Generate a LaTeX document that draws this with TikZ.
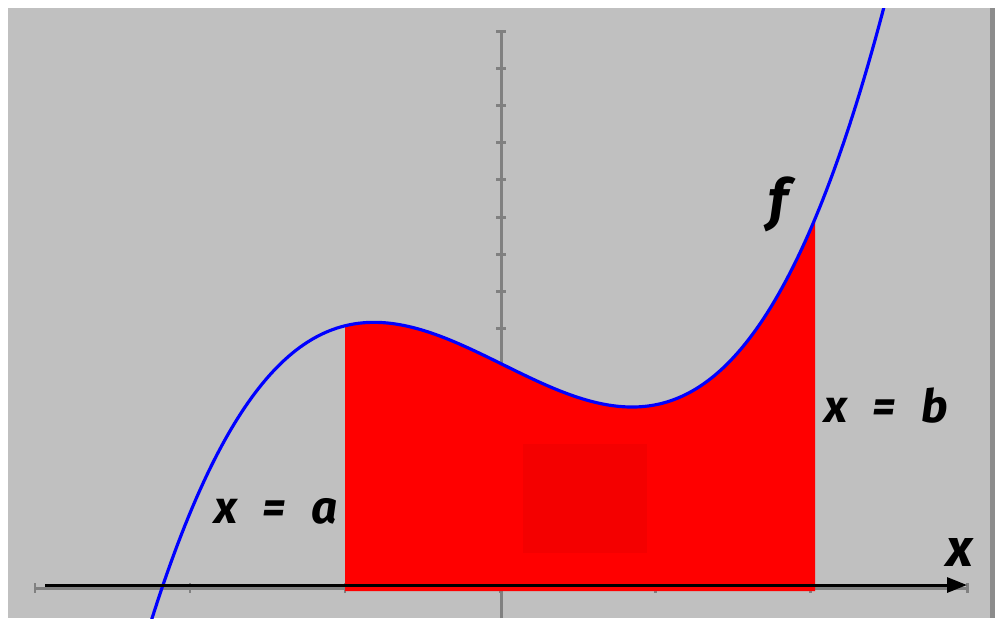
\documentclass[tikz,border=0pt]{standalone}
\usepackage{fontspec}
\setmainfont{Fira Sans}
\usetikzlibrary{arrows.meta}
\definecolor{bggray}{RGB}{192,192,192}
\definecolor{axisgray}{RGB}{128,128,128}
\definecolor{edgegray}{RGB}{140,140,140}
\definecolor{areared}{RGB}{255,0,0}
\definecolor{patchred}{RGB}{244,0,0}
\definecolor{curveblue}{RGB}{0,0,255}
\begin{document}
\begin{tikzpicture}[x=0.01cm,y=-0.01cm,
  declare function={cu(\x)=(\x-500)/155;
    fy(\x)=588-37.1*(0.99*cu(\x)*cu(\x)*cu(\x)-0.058*cu(\x)*cu(\x)-2.056*cu(\x)+6.06);},
  lbl/.style={font=\fontsize{13}{13}\selectfont\bfseries\itshape, inner sep=0pt, anchor=base},
  axisline/.style={draw=axisgray, line width=0.85pt},
  tickmark/.style={draw=axisgray, line width=0.85pt},
  xarrow/.style={draw=black, line width=0.85pt, -{Triangle[length=2mm,width=1.5mm]}},
  curve/.style={draw=curveblue, line width=0.9pt}]
\useasboundingbox (0,0) rectangle (1000,623);
\fill[white] (0,0) rectangle (1000,623);
\fill[bggray] (8,8) rectangle (990,618);
\fill[edgegray] (990,8) rectangle (995,618);
\begin{scope}
  \clip (8,8) rectangle (990,618);
  % vertical axis and ticks
  \coordinate (ytop) at (501,32);
  \coordinate (ybot) at (501,618);
  \draw[axisline] (ybot) -- (ytop);
  \foreach \k in {1,...,15} \draw[tickmark] (496,{588-37.1*\k}) -- (506,{588-37.1*\k});
  % horizontal gray axis and ticks
  \coordinate (hleft) at (35,588);
  \coordinate (hright) at (967,588);
  \draw[axisline] (hleft) -- (hright);
  \foreach \t in {35,190,345,500,655,810,967} \draw[tickmark] (\t,583) -- (\t,593);
  % area under the curve
  \fill[areared] (345,591) -- plot[domain=345:815, samples=120] (\x,{fy(\x)}) -- (815,591) -- cycle;
  \fill[patchred] (523,444) rectangle (647,553);
  % curve
  \draw[curve] plot[domain=148:886, samples=200] (\x,{fy(\x)});
\end{scope}
% x axis arrow
\coordinate (xstart) at (45,585);
\coordinate (xend) at (967,585);
\draw[xarrow] (xstart) -- (xend);
% labels
\node[lbl] (la) at (276,523) {x\hspace{0.55em}=\hspace{0.55em}a};
\node[lbl] (lb) at (886,422) {x\hspace{0.55em}=\hspace{0.55em}b};
\node[lbl, font=\fontsize{16}{16}\selectfont\bfseries\itshape] (lf) at (778,219) {f};
\node[lbl, font=\fontsize{15}{15}\selectfont\bfseries\itshape] (lx) at (960,566) {x};
\end{tikzpicture}
\end{document}
